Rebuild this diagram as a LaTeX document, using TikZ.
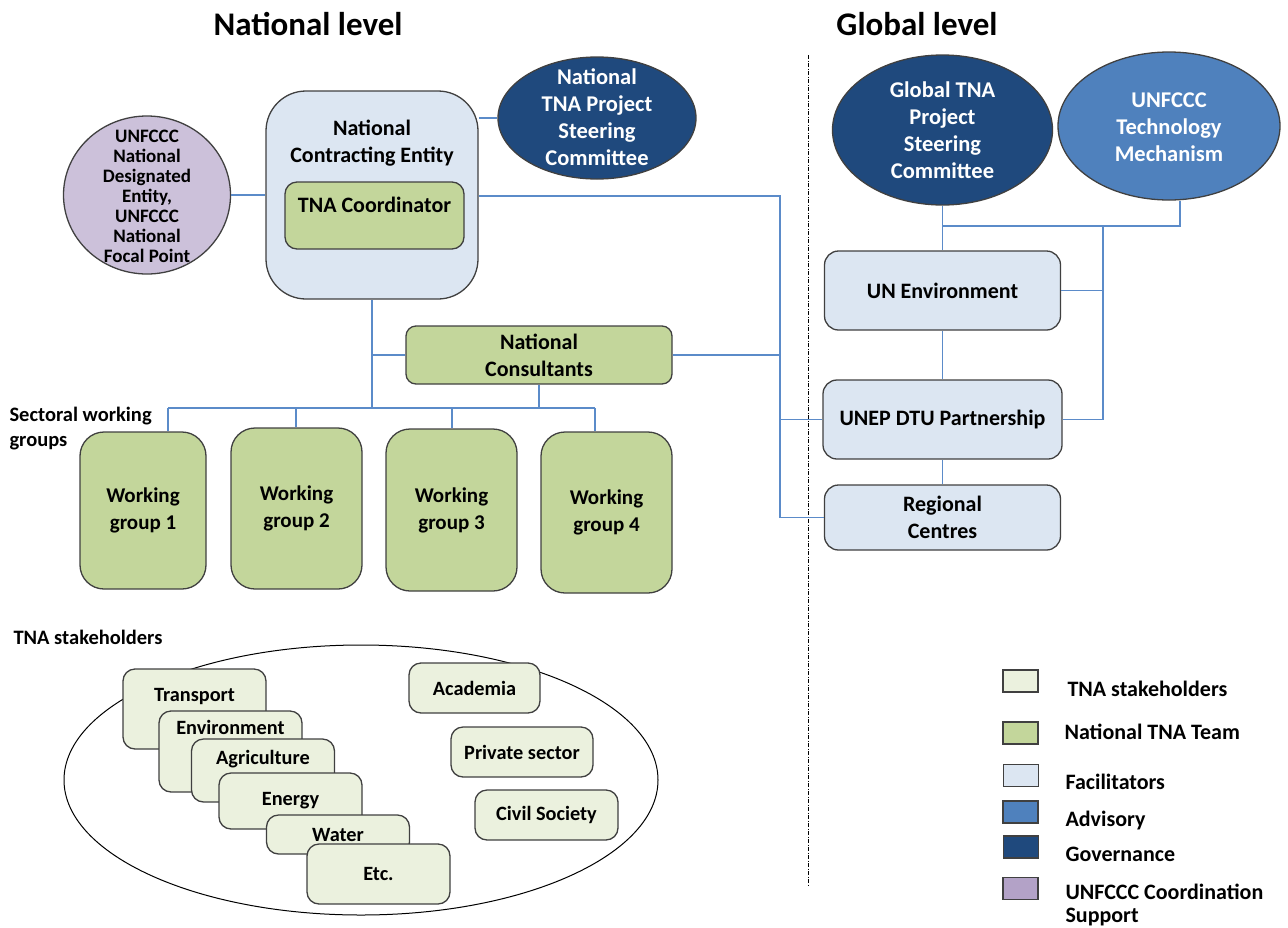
\documentclass[tikz,border=0pt]{standalone}
\usepackage{fontspec}
\setmainfont{Carlito}
\usetikzlibrary{shapes.geometric}
\definecolor{stakecol}{HTML}{EBF1DE}
\definecolor{teamcol}{HTML}{C3D69B}
\definecolor{facilcol}{HTML}{DCE6F2}
\definecolor{advcol}{HTML}{4F81BD}
\definecolor{govcol}{HTML}{1F497D}
\definecolor{unfcol}{HTML}{CCC1DA}
\definecolor{unflegcol}{HTML}{B3A2C7}
\definecolor{linkcol}{HTML}{5B8BC9}
\definecolor{edgecol}{HTML}{404040}
\tikzset{
	box/.style={draw=edgecol, line width=1.3pt, align=center, inner sep=0pt, font=\bfseries\fontsize{22}{27}\selectfont},
	facil/.style={box, fill=facilcol, rounded corners=14pt},
	team/.style={box, fill=teamcol, rounded corners=12pt},
	wgbox/.style={box, fill=teamcol, rounded corners=24pt, minimum width=131, minimum height=160, font=\bfseries\fontsize{21}{27}\selectfont},
	stake/.style={box, fill=stakecol, rounded corners=12pt, minimum width=143, font=\bfseries\fontsize{20.3}{24}\selectfont},
	oval/.style={ellipse, draw=edgecol, line width=1.3pt},
	lbl/.style={align=center, font=\bfseries\fontsize{22}{27}\selectfont},
	stakelbl/.style={lbl, font=\bfseries\fontsize{20.3}{24}\selectfont},
	ovaltext/.style={lbl, text=white, font=\bfseries\fontsize{22.5}{27}\selectfont},
	sidelbl/.style={anchor=west, align=left, font=\bfseries\fontsize{20.5}{25}\selectfont},
	title/.style={font=\bfseries\fontsize{33}{40}\selectfont},
	link/.style={draw=linkcol, line width=1.2pt},
	divider/.style={draw=black, line width=1pt, dash pattern=on 4pt off 1.5pt on 1pt off 1.5pt},
	legbox/.style={draw=edgecol, line width=1.3pt, minimum width=35, minimum height=22, inner sep=0pt},
	legtext/.style={anchor=west, align=left, font=\bfseries\fontsize{22}{23}\selectfont},
}
\begin{document}
\begin{tikzpicture}[x=1pt,y=-1pt]
	\useasboundingbox (0,0) rectangle (1288,927);
	\node[title] (natlvl) at (308,24) {National level};
	\node[title] (glolvl) at (917,24) {Global level};
	\coordinate (divtop) at (808,55);
	\coordinate (divbot) at (808,885);
	\draw[divider] (divtop) -- (divbot);
	% national level
	\node[oval, fill=unfcol, minimum width=167, minimum height=158] (nde) at (147,195) {};
	\node[lbl, font=\bfseries\fontsize{19}{20}\selectfont] (ndetext) at (147,196) {UNFCCC\\National\\Designated\\Entity,\\UNFCCC\\National\\Focal Point};
	\node[facil, rounded corners=40pt, minimum width=212, minimum height=208] (nce) at (372,195) {};
	\node[lbl] (ncetext) at (372,143) {National\\Contracting Entity};
	\node[team, minimum width=179, minimum height=67] (coord) at (374.5,215.5) {};
	\node[lbl] (coordtext) at (374.5,205) {TNA Coordinator};
	\node[oval, fill=govcol, minimum width=198, minimum height=122] (nsc) at (597,118) {};
	\node[ovaltext] (nsctext) at (597,117) {National\\TNA Project\\Steering\\Committee};
	\node[team, rounded corners=10pt, minimum width=266, minimum height=58] at (539,355) (nc) {National\\Consultants};
	\node[sidelbl] (sectlbl) at (6,429) {Sectoral working\\groups};
	\node[wgbox, minimum width=126, minimum height=157] at (143,510.5) (wg1) {Working\\group 1};
	\node[wgbox, minimum height=161] at (296.5,508.5) (wg2) {Working\\group 2};
	\node[wgbox, minimum height=162] at (451.5,510) (wg3) {Working\\group 3};
	\node[wgbox, minimum height=161] at (606.5,512.5) (wg4) {Working\\group 4};
	% stakeholders
	\node[sidelbl] (stklbl) at (10,637) {TNA stakeholders};
	\node[oval, draw=black, line width=1pt, minimum width=594, minimum height=270] (stk) at (361,780) {};
	\node[stake, minimum height=80] at (194.5,709) (transport) {};
	\node[stakelbl] (transporttext) at (194.5,697) {Transport};
	\node[stake, minimum height=81] at (230.5,751.5) (environment) {};
	\node[stakelbl] (environmenttext) at (230.5,727) {Environment};
	\node[stake, minimum height=63] at (263,770.5) (agriculture) {};
	\node[stakelbl] (agriculturetext) at (263,759) {Agriculture};
	\node[stake, minimum height=56] at (290.5,801) (energy) {Energy};
	\node[stake, minimum height=39] at (338,834.5) (water) {Water};
	\node[stake, minimum height=60] at (378.5,874) (etc) {Etc.};
	\node[stake, minimum width=131, minimum height=50] at (474.5,688) (academia) {Academia};
	\node[stake, minimum width=142, minimum height=50] at (522,752) (private) {Private sector};
	\node[stake, minimum height=50] at (546.5,815) (civil) {Civil Society};
	% global level
	\node[oval, fill=govcol, minimum width=220, minimum height=150] (gsc) at (942.5,130) {};
	\node[ovaltext] (gsctext) at (942.5,130) {Global TNA\\Project\\Steering\\Committee};
	\node[oval, fill=advcol, minimum width=222, minimum height=148] (tm) at (1169,126) {};
	\node[ovaltext] (tmtext) at (1169,127) {UNFCCC\\Technology\\Mechanism};
	\node[facil, minimum width=236, minimum height=79] at (942.5,290.5) (unenv) {UN Environment};
	\node[facil, minimum width=239, minimum height=79] at (942.5,419.5) (unep) {UNEP DTU Partnership};
	\node[facil, minimum width=236, minimum height=65] at (942.5,517.5) (regional) {Regional\\Centres};
	% connectors
	\coordinate (bus1) at (168,408);
	\coordinate (bus2) at (296,408);
	\coordinate (bus3) at (452,408);
	\coordinate (bus4) at (595,408);
	\coordinate (trunk) at (780,196);
	\coordinate (gleft) at (942.5,226);
	\coordinate (gjoin) at (1103,226);
	\coordinate (gright) at (1180,226);
	\draw[link] (bus1) -- (bus4);
	\path[link] (bus1) edge (bus1 |- wg1.north)
	(bus2) edge (bus2 |- wg2.north)
	(bus3) edge (bus3 |- wg3.north)
	(bus4) edge (bus4 |- wg4.north);
	\draw[link] (nce.south) -- (nce.south |- bus1);
	\draw[link] (nc.west) -- (nc.west -| nce.south);
	\draw[link] (nc.south) -- (nc.south |- bus1);
	\draw[link] (nde.east) -- (nde.east -| nce.west);
	\draw[link] (nsc.west) -- (nsc.west -| nce.east);
	\draw[link] (nce.east |- trunk) -- (trunk) |- (regional.west);
	\draw[link] (nc.east) -- (nc.east -| trunk);
	\draw[link] (unep.west) -- (unep.west -| trunk);
	\draw[link] (gsc.south) -- (unenv.north);
	\draw[link] (gleft) -- (gright) -- (gright |- tm.south);
	\draw[link] (gjoin) |- (unep.east);
	\draw[link] (unenv.east) -- (unenv.east -| gjoin);
	\draw[link] (unenv.south) -- (unep.north);
	\draw[link] (unep.south) -- (regional.north);
	% legend
	\node[legbox, fill=stakecol] (leg1) at (1020.5,681) {};
	\node[legtext] (leg1text) at (1064,689) {TNA stakeholders};
	\node[legbox, fill=teamcol] (leg2) at (1020.5,733) {};
	\node[legtext] (leg2text) at (1061,732) {National TNA Team};
	\node[legbox, fill=facilcol] (leg3) at (1021,775.5) {};
	\node[legtext] (leg3text) at (1062,782) {Facilitators};
	\node[legbox, fill=advcol] (leg4) at (1020.5,812) {};
	\node[legtext] (leg4text) at (1062,820) {Advisory};
	\node[legbox, fill=govcol] (leg5) at (1021,847) {};
	\node[legtext] (leg5text) at (1062,854) {Governance};
	\node[legbox, fill=unflegcol] (leg6) at (1020.5,888.5) {};
	\node[legtext] (leg6text) at (1062,905) {UNFCCC Coordination\\Support};
\end{tikzpicture}
\end{document}
